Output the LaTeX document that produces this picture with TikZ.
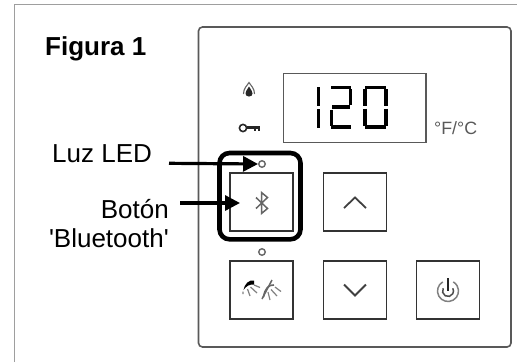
\documentclass[tikz,border=0pt]{standalone}
\usepackage{fontspec}
\setmainfont{Liberation Sans}[Ligatures=TeXOff]
\usetikzlibrary{arrows.meta}
\tikzset{
  x=1pt,y=-1pt,
  frameline/.style={draw=black!38,line width=1.3pt},
  panel/.style={draw=black!65,line width=1.6pt,rounded corners=4pt},
  lcd/.style={draw=black!65,line width=1.5pt},
  keybtn/.style={draw=black!80,line width=1.7pt,minimum width=63pt,minimum height=58pt,inner sep=0pt},
  led/.style={circle,draw=black!60,line width=1.4pt,minimum size=6.5pt,inner sep=0pt},
  seg/.style={black,line width=3.7pt},
  glyph/.style={draw=black!70,line width=1.3pt},
  callout/.style={-{Triangle[length=15pt,width=15pt]},line width=3.2pt,black},
  halo/.style={draw=black,line width=4.6pt,rounded corners=10pt},
  lbl/.style={font=\fontsize{26pt}{30pt}\selectfont,inner sep=0pt,anchor=base east},
}
\begin{document}
\begin{tikzpicture}
\useasboundingbox (0,0) rectangle (517,362);
\fill[white] (0,0) rectangle (517,362);
% outer frame (open at right and bottom)
\draw[frameline] (14.5,362) -- (14.5,4.5) -- (517,4.5);
% panel
\draw[panel] (198.5,27) rectangle (511,347);
% display
\draw[lcd] (283.5,73.5) rectangle (426,142.5);
% digit 1
\draw[seg] (318.5,87) -- (318.5,105.5) (318.5,109) -- (318.5,127.5);
% digit 2
\draw[seg] (331,87.5) -- (351,87.5) (350.5,89) -- (350.5,105) (332,107.3) -- (350,107.3)
  (331.5,109.5) -- (331.5,125.5) (331,127) -- (351,127);
% digit 0
\draw[seg] (365,87.5) -- (386,87.5) (386,89) -- (386,106) (386,108.5) -- (386,125.5)
  (365,127) -- (386,127) (365,108.5) -- (365,125.5) (365,89) -- (365,106);
% flame
\draw[glyph,line width=1.1pt,black!60] (243.5,94) .. controls (243.5,88) and (247,86) .. (249,82.5)
  .. controls (251,86) and (254.5,88) .. (254.5,94);
\fill[black!85] (249,86.5) .. controls (251,90) and (252.5,91) .. (252.5,93.5)
  .. controls (252.5,95.5) and (251,96.5) .. (249,96.5)
  .. controls (247,96.5) and (245.5,95.5) .. (245.5,93.5)
  .. controls (245.5,91) and (247,90) .. (249,86.5) -- cycle;
% key
\draw[black!85,line width=1.6pt] (243,128) circle (3.6pt);
\draw[black!85,line width=2.2pt] (246.6,127.5) -- (260,127.5);
\draw[black!85,line width=1.6pt] (255,128) -- (255,131) (259,128) -- (259,131);
% F/C
\node[anchor=base west,inner sep=0pt,text=black!65,font=\fontsize{17.8pt}{20pt}\selectfont] (units) at (434,134) {°F/°C};
% keys
\node[keybtn] (bt) at (261.7,202.3) {};
\node[keybtn] (up) at (355,202.3) {};
\node[keybtn] (mode) at (261.7,290) {};
\node[keybtn] (down) at (355,290) {};
\node[keybtn] (power) at (448,290) {};
% leds
\node[led] (ledtop) at (262,164) {};
\node[led] (ledlow) at (262,252) {};
% bluetooth glyph
\draw[glyph,black!60,line width=1.5pt] (256,197.5) -- (267.5,208.5) -- (261.5,213.5) -- (261.5,192.5) -- (267.5,197.5) -- (256,208.5);
% chevrons
\draw[glyph,line width=1.8pt,black!75] (344,208) -- (355,197.5) -- (366,208);
\draw[glyph,line width=1.8pt,black!75] (344,284.5) -- (355,295.5) -- (366,284.5);
% power glyph
\draw[glyph,black!50,line width=1.5pt] (442.75,281.9) arc[start angle=120,end angle=420,radius=10.5pt];
\draw[glyph,black!70,line width=1.5pt] (443.24,288.25) arc[start angle=150,end angle=390,radius=5.5pt];
\draw[glyph,black!85,line width=1.5pt] (448,278) -- (448,291);
% shower/massage glyph
\draw[glyph,black!60,line width=1.5pt] (272,280) -- (262,299);
\fill[black] (243.5,290) .. controls (244.5,284) and (249,279.5) .. (254,280.5) -- (254,284.5) .. controls (250,284) and (246,286) .. (243.5,290) -- cycle;
\draw[black!50,line width=1.2pt] (243,291.5) -- (243,294) (247.5,289) -- (250,296) (250.5,287) -- (257,293) (254,285) -- (260,287.5);
\draw[black!60,line width=1.6pt] (263.5,297) .. controls (265,288) and (269,284.5) .. (274,285);
\draw[black!50,line width=1.2pt] (268,292) -- (270,300) (271,289.5) -- (277,296) (275,287) -- (281,291.5);
% halo
\draw[halo] (219.5,153) rectangle (300.5,239.3);
% arrows
\coordinate (ledstart) at (169,163.3);
\coordinate (btstart) at (180,203);
\coordinate (bttip) at (240,203);
\draw[callout] (ledstart) -- (ledtop.west);
\draw[callout] (btstart) -- (bttip);
% labels
\node[anchor=base west,inner sep=0pt,font=\bfseries\fontsize{26pt}{30pt}\selectfont] (fig) at (45,55) {Figura 1};
\node[lbl,anchor=base west] (luz) at (52,162) {Luz LED};
\node[lbl] (boton) at (169,218) {Botón};
\node[lbl] (bluet) at (169,247) {'Bluetooth'};
\end{tikzpicture}
\end{document}
